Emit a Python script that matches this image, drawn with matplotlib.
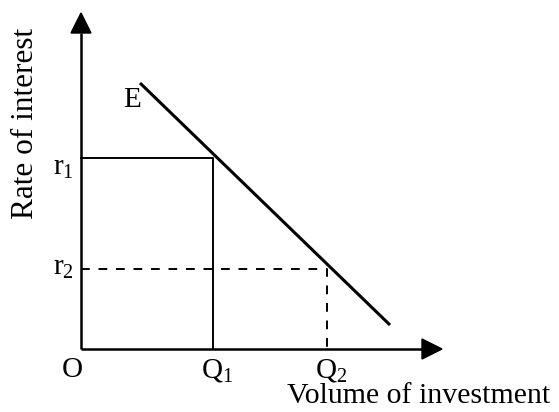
import matplotlib
matplotlib.use("Agg")
import matplotlib.pyplot as plt
from matplotlib.patches import Polygon

plt.rcParams['font.family'] = ['Liberation Serif', 'DejaVu Serif']
plt.rcParams['mathtext.fontset'] = 'custom'
plt.rcParams['mathtext.rm'] = 'Liberation Serif'
plt.rcParams['mathtext.it'] = 'Liberation Serif:italic'

# investment demand curve E (volume, rate)
e_volume = [59, 309]
e_rate = [266, 24]

# two rates and the volumes they give
rates = [191, 80]
volumes = [132, 246]
rate_labels = ['r$_\\mathrm{1}$', 'r$_\\mathrm{2}$']
volume_labels = ['Q$_\\mathrm{1}$', 'Q$_\\mathrm{2}$']

x_end, y_end = 361, 336   # arrow tips of the axes
head = 20

fig = plt.figure(figsize=(5.59, 4.12), dpi=100)
ax = fig.add_axes([0, 0, 1, 1])
ax.set_xlim(-81, 478)
ax.set_ylim(-63, 349)
ax.axis('off')

# axes with arrow heads
ax.plot([0, 0], [0, y_end - head], color='black', lw=1.8, solid_capstyle='butt')
ax.plot([0, x_end - head], [0, 0], color='black', lw=1.8, solid_capstyle='butt')
ax.add_patch(Polygon([(-10, y_end - head), (10, y_end - head), (0, y_end)], closed=True, color='black'))
ax.add_patch(Polygon([(x_end - head, -10), (x_end - head, 10), (x_end, 0)], closed=True, color='black'))

# E curve
ax.plot(e_volume, e_rate, color='black', lw=2.2, solid_capstyle='butt')

# r1 -> Q1 solid, r2 -> Q2 dashed
ax.plot([0, volumes[0], volumes[0]], [rates[0], rates[0], 0], color='black', lw=1.4)
ax.plot([0, volumes[1], volumes[1]], [rates[1], rates[1], 0], color='black', lw=1.4,
        ls=(0, (4.5, 4.5)))

lab = dict(fontsize=21, color='black')
ax.text(-9, -28, 'O', ha='center', va='baseline', **lab)
ax.text(e_volume[0] - 17, e_rate[0] - 24, 'E', ha='left', va='baseline', **lab)
ax.text(-28, rates[0] - 17, rate_labels[0], ha='left', va='baseline', **lab)
ax.text(-28, rates[1] - 6, rate_labels[1], ha='left', va='baseline', **lab)
for v, t in zip(volumes, volume_labels):
    ax.text(v + 4, -28, t, ha='center', va='baseline', **lab)

ax.text(206, -54, 'Volume of investment', ha='left', va='baseline', fontsize=21.5)
ax.text(-48, 226, 'Rate of interest', ha='center', va='baseline', rotation=90,
        rotation_mode='anchor', fontsize=22.5)

fig.savefig('out.png', dpi=100)
